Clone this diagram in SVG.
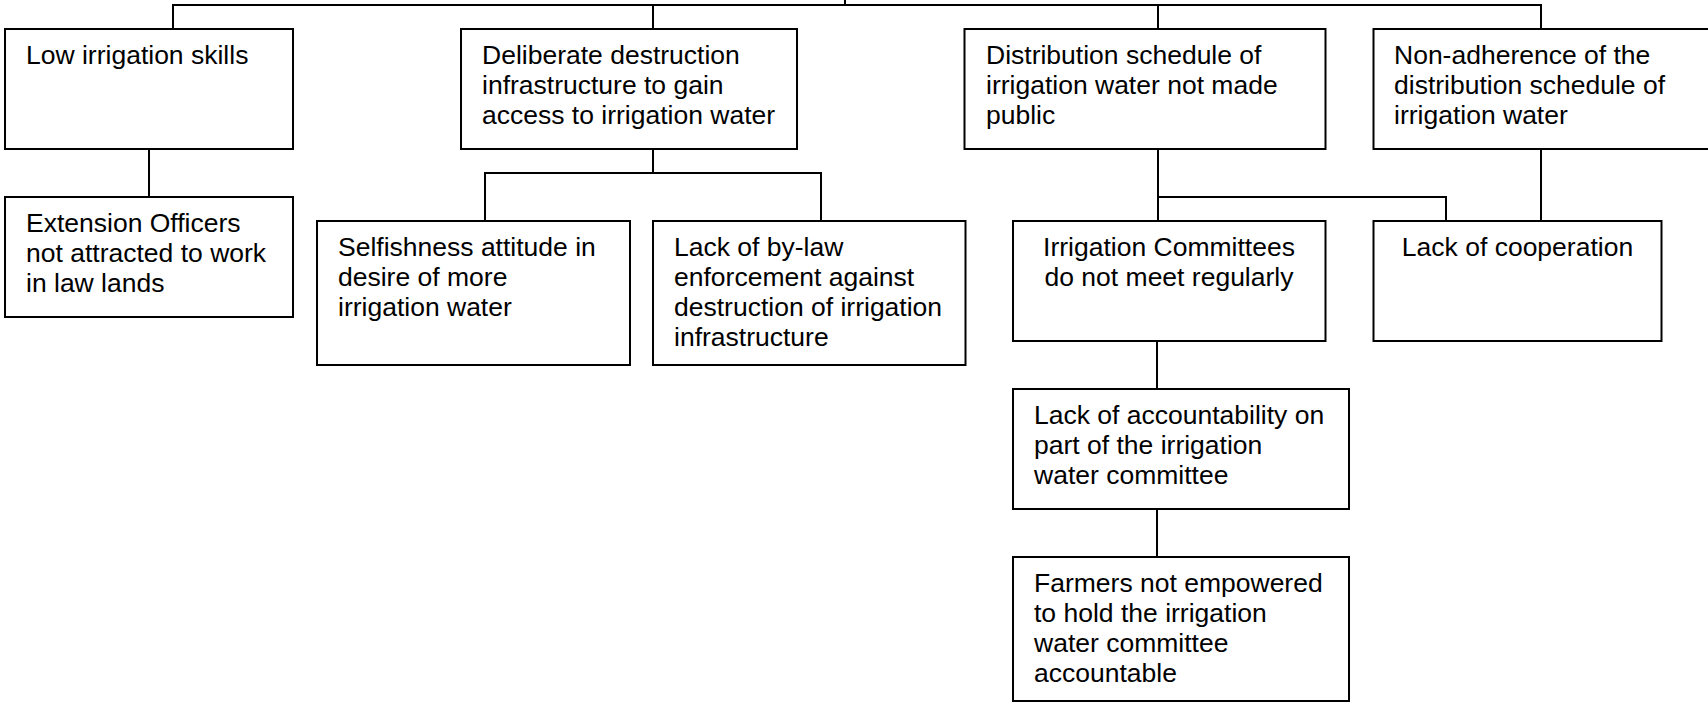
<svg xmlns="http://www.w3.org/2000/svg" width="1708" height="703" viewBox="0 0 1708 703">
  <style>
    .box { fill: #ffffff; stroke: #000000; stroke-width: 2; }
    .wire { fill: none; stroke: #000000; stroke-width: 2; }
    text { font-family: "Liberation Sans", Arial, sans-serif; font-size: 26.5px; fill: #000000; }
    .mid { text-anchor: middle; }
  </style>
  <rect width="1708" height="703" fill="#ffffff"/>

  <!-- connector lines -->
  <g id="connectors" class="wire">
    <path d="M845,0 V5"/>
    <path d="M173,29 V5 H1541 V29"/>
    <path d="M653,5 V29"/>
    <path d="M1158,5 V29"/>
    <path d="M149,149 V197"/>
    <path d="M653,149 V173"/>
    <path d="M485,221 V173 H821 V221"/>
    <path d="M1158,149 V221"/>
    <path d="M1158,197 H1446 V221"/>
    <path d="M1541,149 V221"/>
    <path d="M1157,341 V389"/>
    <path d="M1157,509 V557"/>
  </g>

  <g id="low-skills">
    <rect class="box" x="5" y="29" width="288" height="120"/>
    <text x="26" y="64">Low irrigation skills</text>
  </g>

  <g id="extension-officers">
    <rect class="box" x="5" y="197" width="288" height="120"/>
    <text x="26" y="232">Extension Officers</text>
    <text x="26" y="262">not attracted to work</text>
    <text x="26" y="292">in law lands</text>
  </g>

  <g id="deliberate-destruction">
    <rect class="box" x="461" y="29" width="336" height="120"/>
    <text x="482" y="64">Deliberate destruction</text>
    <text x="482" y="94">infrastructure to gain</text>
    <text x="482" y="124">access to irrigation water</text>
  </g>

  <g id="selfishness">
    <rect class="box" x="317" y="221" width="313" height="144"/>
    <text x="338" y="256">Selfishness attitude in</text>
    <text x="338" y="286">desire of more</text>
    <text x="338" y="316">irrigation water</text>
  </g>

  <g id="bylaw-enforcement">
    <rect class="box" x="653" y="221" width="312.5" height="144"/>
    <text x="674" y="256">Lack of by-law</text>
    <text x="674" y="286">enforcement against</text>
    <text x="674" y="316">destruction of irrigation</text>
    <text x="674" y="346">infrastructure</text>
  </g>

  <g id="schedule-not-public">
    <rect class="box" x="964.5" y="29" width="361" height="120"/>
    <text x="986" y="64">Distribution schedule of</text>
    <text x="986" y="94">irrigation water not made</text>
    <text x="986" y="124">public</text>
  </g>

  <g id="non-adherence">
    <rect class="box" x="1373.5" y="29" width="340" height="120"/>
    <text x="1394" y="64">Non-adherence of the</text>
    <text x="1394" y="94">distribution schedule of</text>
    <text x="1394" y="124">irrigation water</text>
  </g>

  <g id="committees-meet">
    <rect class="box" x="1013" y="221" width="312.5" height="120"/>
    <text class="mid" x="1169" y="256">Irrigation Committees</text>
    <text class="mid" x="1169" y="286">do not meet regularly</text>
  </g>

  <g id="cooperation">
    <rect class="box" x="1373.5" y="221" width="288" height="120"/>
    <text class="mid" x="1517.5" y="256">Lack of cooperation</text>
  </g>

  <g id="accountability">
    <rect class="box" x="1013" y="389" width="336" height="120"/>
    <text x="1034" y="424">Lack of accountability on</text>
    <text x="1034" y="454">part of the irrigation</text>
    <text x="1034" y="484">water committee</text>
  </g>

  <g id="farmers-empowered">
    <rect class="box" x="1013" y="557" width="336" height="144"/>
    <text x="1034" y="592">Farmers not empowered</text>
    <text x="1034" y="622">to hold the irrigation</text>
    <text x="1034" y="652">water committee</text>
    <text x="1034" y="682">accountable</text>
  </g>
</svg>
